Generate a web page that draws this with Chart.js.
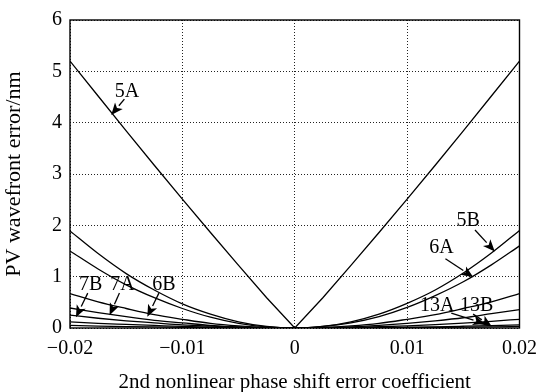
<!DOCTYPE html>
<html>
<head>
<meta charset="utf-8">
<script src="https://cdn.jsdelivr.net/npm/chart.js@4/dist/chart.umd.min.js"></script>
<style>
  html, body { margin: 0; padding: 0; background: #fff; }
  #wrap { width: 546px; height: 392px; }
</style>
</head>
<body>
<div id="wrap"><canvas id="c" width="546" height="392"></canvas></div>
<script>
// Coefficient values along the x axis
const coefficients = [-0.02, -0.0175, -0.015, -0.0125, -0.01, -0.0075, -0.005, -0.0025, 0,
                      0.0025, 0.005, 0.0075, 0.01, 0.0125, 0.015, 0.0175, 0.02];

// PV wavefront error (nm) for each case
const err5A  = [5.2, 4.52, 3.84, 3.17, 2.51, 1.86, 1.22, 0.59, 0, 0.59, 1.22, 1.86, 2.51, 3.17, 3.84, 4.52, 5.2];
const err5B  = [1.89, 1.45, 1.06, 0.74, 0.47, 0.27, 0.12, 0.03, 0, 0.03, 0.12, 0.27, 0.48, 0.74, 1.07, 1.46, 1.9];
const err6A  = [1.5, 1.15, 0.84, 0.59, 0.38, 0.21, 0.09, 0.02, 0, 0.03, 0.1, 0.22, 0.4, 0.63, 0.9, 1.23, 1.6];
const err6B  = [0.67, 0.51, 0.38, 0.26, 0.17, 0.09, 0.04, 0.01, 0, 0.01, 0.04, 0.09, 0.17, 0.26, 0.38, 0.51, 0.67];
const err7A  = [0.39, 0.3, 0.22, 0.15, 0.1, 0.05, 0.02, 0.01, 0, 0.01, 0.02, 0.05, 0.09, 0.14, 0.2, 0.28, 0.36];
const err7B  = [0.25, 0.19, 0.14, 0.1, 0.06, 0.035, 0.016, 0.004, 0, 0.003, 0.011, 0.024, 0.043, 0.066, 0.096, 0.13, 0.17];
const err13A = [0.12, 0.09, 0.07, 0.05, 0.03, 0.017, 0.008, 0.002, 0, 0.001, 0.004, 0.008, 0.015, 0.023, 0.034, 0.046, 0.06];
const err13B = [0.05, 0.038, 0.028, 0.02, 0.013, 0.007, 0.003, 0.001, 0, 0.0005, 0.002, 0.004, 0.0075, 0.012, 0.017, 0.023, 0.03];

const seriesNames = ['5A', '5B', '6A', '6B', '7A', '7B', '13A', '13B'];
const seriesValues = [err5A, err5B, err6A, err6B, err7A, err7B, err13A, err13B];

// Tick labels
const xTickLabels = ['\u22120.02', '\u22120.01', '0', '0.01', '0.02'];
const yTickLabels = ['0', '1', '2', '3', '4', '5', '6'];

// Curve labels (data coordinates of text centre)
const curveLabels = [
  { text: '5A',  x: -0.01494, y: 4.60 },
  { text: '7B',  x: -0.01815, y: 0.84 },
  { text: '7A',  x: -0.01534, y: 0.84 },
  { text: '6B',  x: -0.01165, y: 0.84 },
  { text: '5B',  x: 0.01543,  y: 2.08 },
  { text: '6A',  x: 0.01305,  y: 1.56 },
  { text: '13A', x: 0.01268,  y: 0.44 },
  { text: '13B', x: 0.01619,  y: 0.44 }
];

// Pointer arrows (from label towards curve)
const pointerArrows = [
  { x0: -0.01516, y0: 4.46, x1: -0.01633, y1: 4.15 },
  { x0: -0.01842, y0: 0.68, x1: -0.01947, y1: 0.21 },
  { x0: -0.01560, y0: 0.68, x1: -0.01648, y1: 0.25 },
  { x0: -0.01209, y0: 0.68, x1: -0.01312, y1: 0.22 },
  { x0: 0.01604,  y0: 1.91, x1: 0.01780,  y1: 1.49 },
  { x0: 0.01341,  y0: 1.35, x1: 0.01589,  y1: 0.99 },
  { x0: 0.01393,  y0: 0.29, x1: 0.01692,  y1: 0.08 },
  { x0: 0.01587,  y0: 0.27, x1: 0.01754,  y1: 0.03 }
];

const serif = "'Liberation Serif', 'Times New Roman', serif";

// 5A is a sharp V, the others are smooth parabolas
const datasets = seriesNames.map((name, i) => ({
  label: name,
  data: coefficients.map((c, k) => ({ x: c, y: seriesValues[i][k] })),
  borderColor: '#000',
  borderWidth: 1.3,
  pointRadius: 0,
  fill: false,
  tension: name === '5A' ? 0 : 0.4,
  cubicInterpolationMode: name === '5A' ? 'default' : 'monotone'
}));

// Frame around plot area plus curve labels and arrows
const annotate = {
  id: 'annotate',
  afterDatasetsDraw(chart) {
    const { ctx, chartArea: a, scales: { x, y } } = chart;
    ctx.save();
    ctx.strokeStyle = '#000';
    ctx.lineWidth = 1.4;
    ctx.setLineDash([]);
    ctx.strokeRect(a.left, a.top, a.right - a.left, a.bottom - a.top);

    ctx.fillStyle = '#000';
    ctx.font = '20px ' + serif;
    ctx.textAlign = 'center';
    ctx.textBaseline = 'middle';
    curveLabels.forEach(l => ctx.fillText(l.text, x.getPixelForValue(l.x), y.getPixelForValue(l.y)));

    ctx.lineWidth = 1.3;
    pointerArrows.forEach(p => {
      const x0 = x.getPixelForValue(p.x0), y0 = y.getPixelForValue(p.y0);
      const x1 = x.getPixelForValue(p.x1), y1 = y.getPixelForValue(p.y1);
      const ang = Math.atan2(y1 - y0, x1 - x0);
      const len = 12, half = 5;
      const bx = x1 - len * Math.cos(ang), by = y1 - len * Math.sin(ang);
      ctx.beginPath();
      ctx.moveTo(x0, y0);
      ctx.lineTo(bx, by);
      ctx.stroke();
      ctx.beginPath();
      ctx.moveTo(x1, y1);
      ctx.lineTo(bx + half * Math.sin(ang), by - half * Math.cos(ang));
      ctx.lineTo(bx + 3 * Math.cos(ang), by + 3 * Math.sin(ang));
      ctx.lineTo(bx - half * Math.sin(ang), by + half * Math.cos(ang));
      ctx.closePath();
      ctx.fill();
    });
    ctx.restore();
  }
};

new Chart(document.getElementById('c'), {
  type: 'line',
  data: { datasets },
  options: {
    responsive: false,
    animation: false,
    layout: { padding: { left: 0, right: 21, top: 17, bottom: 0 } },
    plugins: { legend: { display: false }, tooltip: { enabled: false } },
    scales: {
      x: {
        type: 'linear',
        min: -0.02, max: 0.02,
        afterFit(s) { s.height = 64; },
        ticks: {
          stepSize: 0.01,
          padding: 9,
          color: '#000',
          font: { family: serif, size: 20 },
          maxRotation: 0,
          callback: (v, i) => xTickLabels[i]
        },
        grid: { color: '#222', lineWidth: 1, drawTicks: false },
        border: { display: false, dash: [1, 2] },
        title: {
          display: true,
          text: '2nd nonlinear phase shift error coefficient',
          color: '#000',
          font: { family: serif, size: 21, lineHeight: 1 },
          padding: { top: 0, bottom: -1 }
        }
      },
      y: {
        min: 0, max: 6,
        afterFit(s) { s.width = 70; },
        ticks: {
          stepSize: 1,
          padding: 8,
          color: '#000',
          font: { family: serif, size: 20 },
          callback: (v, i) => yTickLabels[i]
        },
        grid: { color: '#222', lineWidth: 1, drawTicks: false },
        border: { display: false, dash: [1, 2] },
        title: {
          display: true,
          text: 'PV wavefront error/nm',
          color: '#000',
          font: { family: serif, size: 22, lineHeight: 1 },
          padding: { top: 3, bottom: 0 }
        }
      }
    }
  },
  plugins: [annotate]
});
</script>
</body>
</html>
